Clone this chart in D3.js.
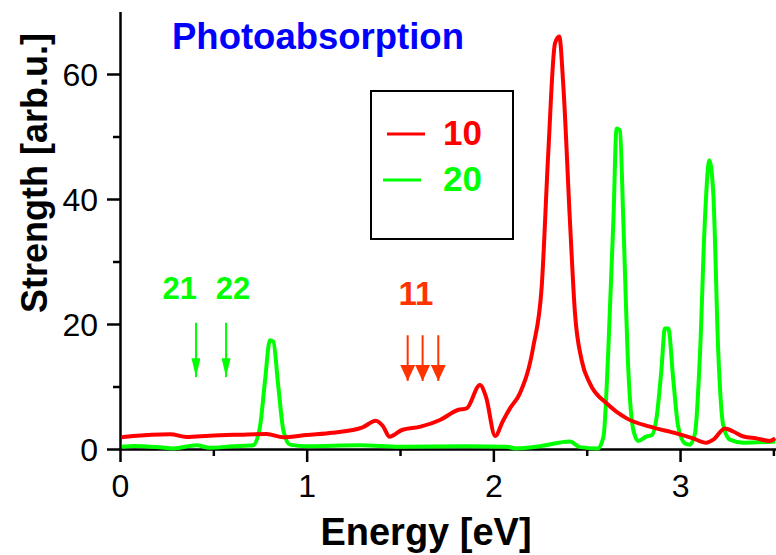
<!DOCTYPE html>
<html>
<head>
<meta charset="utf-8">
<script src="https://cdnjs.cloudflare.com/ajax/libs/d3/7.8.5/d3.min.js"></script>
<style>
  body { margin: 0; background: #fff; }
  svg { display: block; font-family: "Liberation Sans", Arial, Helvetica, sans-serif; }
</style>
</head>
<body>
<div id="chart"></div>
<script>
// series 10 (red)
var energy10 = [0.01, 0.07, 0.27, 0.357, 0.48, 0.643, 0.786, 0.875, 1.0, 1.14, 1.30, 1.37, 1.41, 1.443, 1.51,
  1.61, 1.714, 1.81, 1.857, 1.928, 1.96, 2.01, 2.05, 2.089, 2.142, 2.214, 2.259, 2.294, 2.33, 2.353, 2.375,
  2.41, 2.437, 2.473, 2.517, 2.607, 2.714, 2.839, 2.98, 3.07, 3.14, 3.18, 3.24, 3.285, 3.34, 3.41, 3.48, 3.51];
var strength10 = [1.87, 2.08, 2.35, 1.92, 2.13, 2.29, 2.4, 1.87, 2.24, 2.61, 3.47, 4.53, 3.6, 1.97, 3.04,
  3.57, 4.64, 6.24, 6.5, 10.24, 8.4, 2.08, 4.4, 6.5, 8.9, 16.4, 26, 47.3, 64.9, 66.0, 58,
  36.6, 21.8, 14.2, 10.5, 7.3, 4.9, 3.57, 2.5, 1.7, 1.0, 1.55, 3.3, 2.8, 2.0, 1.7, 1.3, 1.7];

// series 20 (green)
var energy20 = [0.01, 0.075, 0.214, 0.286, 0.41, 0.48, 0.607, 0.714, 0.75, 0.777, 0.803, 0.821, 0.848, 0.875,
  0.91, 1.0, 1.285, 1.5, 1.85, 2.07, 2.12, 2.25, 2.41, 2.464, 2.56, 2.59, 2.615, 2.643, 2.66, 2.678, 2.696,
  2.723, 2.75, 2.776, 2.82, 2.848, 2.875, 2.90, 2.919, 2.937, 2.964, 2.99, 3.026, 3.053, 3.08, 3.107, 3.133,
  3.157, 3.178, 3.205, 3.231, 3.267, 3.34, 3.51];
var strength20 = [0.37, 0.5, 0.28, 0.1, 0.6, 0.2, 0.45, 0.6, 3.6, 11, 17.4, 17.2, 10, 3,
  0.7, 0.45, 0.6, 0.37, 0.45, 0.37, 0.1, 0.45, 1.2, 0.3, 0.1, 2.0, 15.3, 36.6, 51.3, 51, 36.6,
  12.6, 3.0, 1.3, 2.0, 2.2, 5.2, 12.6, 19.3, 19.3, 11, 3.57, 0.9, 0.7, 2.5, 15.3, 36.6,
  46.2, 40.9, 15.3, 3.84, 1.5, 1.0, 1.2];

// ticks
var xTicks = [0, 1, 2, 3];
var xMinor = [0.5, 1.5, 2.5, 3.5];
var yTicks = [0, 20, 40, 60];
var yMinor = [10, 30, 50];

// legend entries
var legendLabels = ["10", "20"];
var legendColors = ["#ff0000", "#00ff00"];

// arrow annotations (energy positions)
var arrows20 = [0.407, 0.568];
var arrows11 = [1.541, 1.621, 1.705];
var labels20 = [{ text: "21", x: 0.32 }, { text: "22", x: 0.605 }];
var labels11 = [{ text: "11", x: 1.585 }];

var width = 776, height = 555;

var svg = d3.select("#chart").append("svg")
  .attr("width", width)
  .attr("height", height);

var x = d3.scaleLinear().domain([0, 3.514]).range([120, 776]);
var y = d3.scaleLinear().domain([0, 70]).range([449, 11.5]);

// axes
var xAxis = svg.append("g")
  .attr("transform", "translate(0," + y(0) + ")")
  .call(d3.axisBottom(x).tickValues(xTicks).tickFormat(d3.format("d")).tickSize(13).tickPadding(12).tickSizeOuter(0));
xAxis.append("g")
  .call(d3.axisBottom(x).tickValues(xMinor).tickFormat("").tickSize(7).tickSizeOuter(0))
  .select(".domain").remove();

var yAxis = svg.append("g")
  .attr("transform", "translate(" + x(0) + ",0)")
  .call(d3.axisLeft(y).tickValues(yTicks).tickSize(13).tickPadding(9).tickSizeOuter(0));
yAxis.append("g")
  .call(d3.axisLeft(y).tickValues(yMinor).tickFormat("").tickSize(7).tickSizeOuter(0))
  .select(".domain").remove();

svg.selectAll(".domain, .tick line")
  .attr("stroke", "#000")
  .attr("stroke-width", 2.5);
svg.selectAll(".tick text")
  .attr("fill", "#000")
  .style("font-size", "32px")
  .style("font-family", "'Liberation Sans', Arial, Helvetica, sans-serif");
yAxis.selectAll(".tick text").attr("dy", "0.36em");

// axis titles
svg.append("text")
  .attr("x", 426)
  .attr("y", 545)
  .attr("text-anchor", "middle")
  .style("font-size", "38px")
  .style("font-weight", "bold")
  .text("Energy [eV]");

svg.append("text")
  .attr("transform", "translate(47,173) rotate(-90)")
  .attr("text-anchor", "middle")
  .style("font-size", "36px")
  .style("font-weight", "bold")
  .text("Strength [arb.u.]");

svg.append("text")
  .attr("x", 172)
  .attr("y", 49)
  .style("font-size", "36.5px")
  .style("font-weight", "bold")
  .attr("fill", "#0000ff")
  .text("Photoabsorption");

// curves
var line = d3.line()
  .x(function(d) { return x(d[0]); })
  .y(function(d) { return y(d[1]); })
  .curve(d3.curveMonotoneX);

var plot = svg.append("g");
plot.append("path")
  .datum(d3.zip(energy20, strength20))
  .attr("d", line)
  .attr("fill", "none")
  .attr("stroke", "#00ff00")
  .attr("stroke-width", 4)
  .attr("stroke-linejoin", "round");
plot.append("path")
  .datum(d3.zip(energy10, strength10))
  .attr("d", line)
  .attr("fill", "none")
  .attr("stroke", "#ff0000")
  .attr("stroke-width", 4)
  .attr("stroke-linejoin", "round");

// legend
svg.append("rect")
  .attr("x", 371)
  .attr("y", 91)
  .attr("width", 142)
  .attr("height", 148)
  .attr("fill", "none")
  .attr("stroke", "#000")
  .attr("stroke-width", 2);

var leg = svg.selectAll(".leg")
  .data(legendLabels)
  .enter().append("g")
  .attr("class", "leg");
leg.append("line")
  .attr("x1", function(d, i) { return 387 - i * 4; })
  .attr("x2", function(d, i) { return 425 - i * 4; })
  .attr("y1", function(d, i) { return 134 + i * 46; })
  .attr("y2", function(d, i) { return 134 + i * 46; })
  .attr("stroke", function(d, i) { return legendColors[i]; })
  .attr("stroke-width", 3);
leg.append("text")
  .attr("x", 443)
  .attr("y", function(d, i) { return 145 + i * 46; })
  .attr("fill", function(d, i) { return legendColors[i]; })
  .style("font-size", "35px")
  .style("font-weight", "bold")
  .text(function(d) { return d; });

// arrow markers
var defs = svg.append("defs");
function marker(id, color, w, h) {
  defs.append("marker")
    .attr("id", id)
    .attr("viewBox", "0 0 " + w + " " + h)
    .attr("refX", w / 2)
    .attr("refY", h)
    .attr("markerWidth", w)
    .attr("markerHeight", h)
    .attr("markerUnits", "userSpaceOnUse")
    .attr("orient", "0")
    .append("path")
    .attr("d", "M0,0L" + w + ",0L" + (w / 2) + "," + h + "Z")
    .attr("fill", color);
}
marker("headG", "#00ff00", 9, 19);
marker("headR", "#ff3300", 15, 16);

svg.selectAll(".arrG")
  .data(arrows20)
  .enter().append("line")
  .attr("x1", function(d) { return x(d); })
  .attr("x2", function(d) { return x(d); })
  .attr("y1", y(20.2))
  .attr("y2", y(11.5))
  .attr("stroke", "#00ff00")
  .attr("stroke-width", 2)
  .attr("marker-end", "url(#headG)");

svg.selectAll(".arrR")
  .data(arrows11)
  .enter().append("line")
  .attr("x1", function(d) { return x(d); })
  .attr("x2", function(d) { return x(d); })
  .attr("y1", y(18.2))
  .attr("y2", y(10.9))
  .attr("stroke", "#ff3300")
  .attr("stroke-width", 2)
  .attr("marker-end", "url(#headR)");

svg.selectAll(".labG")
  .data(labels20)
  .enter().append("text")
  .attr("x", function(d) { return x(d.x); })
  .attr("y", y(24))
  .attr("text-anchor", "middle")
  .attr("fill", "#00ff00")
  .style("font-size", "31px")
  .style("font-weight", "bold")
  .text(function(d) { return d.text; });

svg.selectAll(".labR")
  .data(labels11)
  .enter().append("text")
  .attr("x", function(d) { return x(d.x); })
  .attr("y", y(23))
  .attr("text-anchor", "middle")
  .attr("fill", "#ff3300")
  .style("font-size", "33px")
  .style("font-weight", "bold")
  .text(function(d) { return d.text; });
</script>
</body>
</html>
